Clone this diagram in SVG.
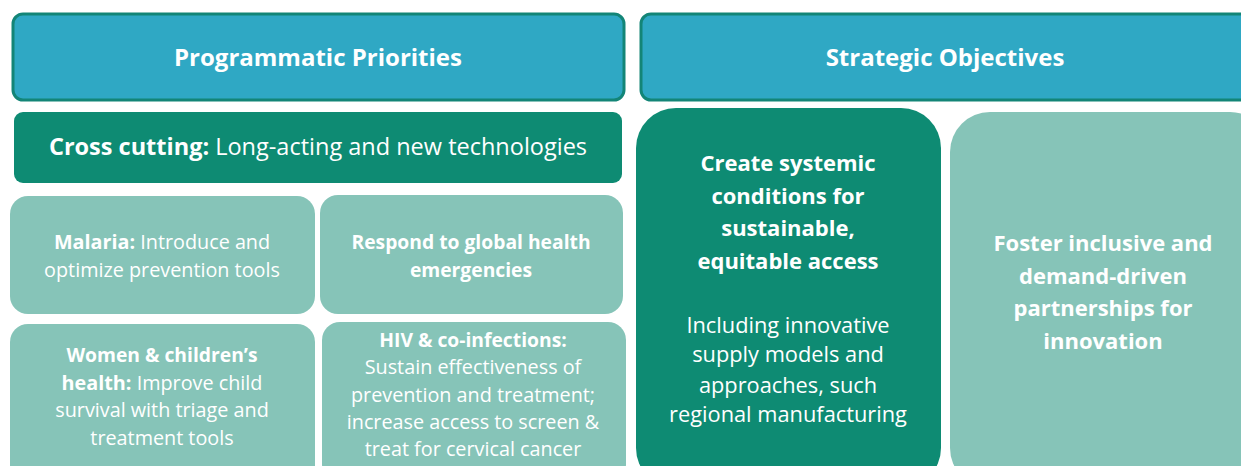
<svg xmlns="http://www.w3.org/2000/svg" width="1241" height="466" viewBox="0 0 1241 466">
  <style>
    text { font-family: "Open Sans", Lato, "Liberation Sans", sans-serif; fill: #ffffff; text-anchor: middle; }
    .head { fill: #2fa8c4; stroke: #138577; stroke-width: 3; }
    .dark { fill: #0e8b73; }
    .light { fill: #86c4b8; }
    .b { font-weight: bold; }
    .t24 { font-size: 24px; }
    .tcc { font-size: 23.5px; }
    .t19 { font-size: 19.8px; }
    .t19b { font-size: 19.3px; font-weight: bold; }
    .t22 { font-size: 22px; }
    .t21 { font-size: 21.8px; }
  </style>
  <rect width="1241" height="466" fill="#ffffff"/>

  <g id="programmatic-priorities">
    <rect class="head" x="13" y="14" width="611" height="86" rx="10"/>
    <text class="b t24" x="318" y="66">Programmatic Priorities</text>
  </g>

  <g id="strategic-objectives">
    <rect class="head" x="641" y="14" width="620" height="86" rx="10"/>
    <text class="b t24" x="945" y="66">Strategic Objectives</text>
  </g>

  <g id="cross-cutting">
    <rect class="dark" x="14" y="112" width="608" height="71" rx="9"/>
    <text class="tcc" x="318" y="155"><tspan class="b">Cross cutting:</tspan> Long-acting and new technologies</text>
  </g>

  <g id="malaria">
    <rect class="light" x="10" y="196" width="305" height="118" rx="18"/>
    <text class="t19" x="162" y="249"><tspan class="b">Malaria:</tspan> Introduce and</text>
    <text class="t19" x="162" y="277">optimize prevention tools</text>
  </g>

  <g id="emergencies">
    <rect class="light" x="320" y="195" width="303" height="119" rx="18"/>
    <text class="t19b" x="471" y="249">Respond to global health</text>
    <text class="t19b" x="471" y="277">emergencies</text>
  </g>

  <g id="women-children">
    <rect class="light" x="10" y="324" width="305" height="160" rx="18"/>
    <text class="t19b" x="162" y="362">Women &amp; children’s</text>
    <text class="t19" x="162" y="390"><tspan class="b">health:</tspan> Improve child</text>
    <text class="t19" x="162" y="417">survival with triage and</text>
    <text class="t19" x="162" y="445">treatment tools</text>
  </g>

  <g id="hiv">
    <rect class="light" x="322" y="322" width="304" height="160" rx="18"/>
    <text class="t19b" x="473" y="347">HIV &amp; co-infections:</text>
    <text class="t19" x="473" y="374">Sustain effectiveness of</text>
    <text class="t19" x="473" y="402">prevention and treatment;</text>
    <text class="t19" x="473" y="429">increase access to screen &amp;</text>
    <text class="t19" x="473" y="456">treat for cervical cancer</text>
  </g>

  <g id="systemic-access">
    <rect class="dark" x="636" y="108" width="305" height="380" rx="40"/>
    <text class="t22 b" x="788" y="171">Create systemic</text>
    <text class="t22 b" x="788" y="204">conditions for</text>
    <text class="t22 b" x="788" y="236">sustainable,</text>
    <text class="t22 b" x="788" y="269">equitable access</text>
    <text class="t21" x="788" y="333">Including innovative</text>
    <text class="t21" x="788" y="362">supply models and</text>
    <text class="t21" x="788" y="393">approaches, such</text>
    <text class="t21" x="788" y="422">regional manufacturing</text>
  </g>

  <g id="partnerships">
    <rect class="light" x="950" y="112" width="320" height="376" rx="40"/>
    <text class="t22 b" x="1103" y="251">Foster inclusive and</text>
    <text class="t22 b" x="1103" y="284">demand-driven</text>
    <text class="t22 b" x="1103" y="316">partnerships for</text>
    <text class="t22 b" x="1103" y="349">innovation</text>
  </g>

  <g id="connectors"/>
</svg>
